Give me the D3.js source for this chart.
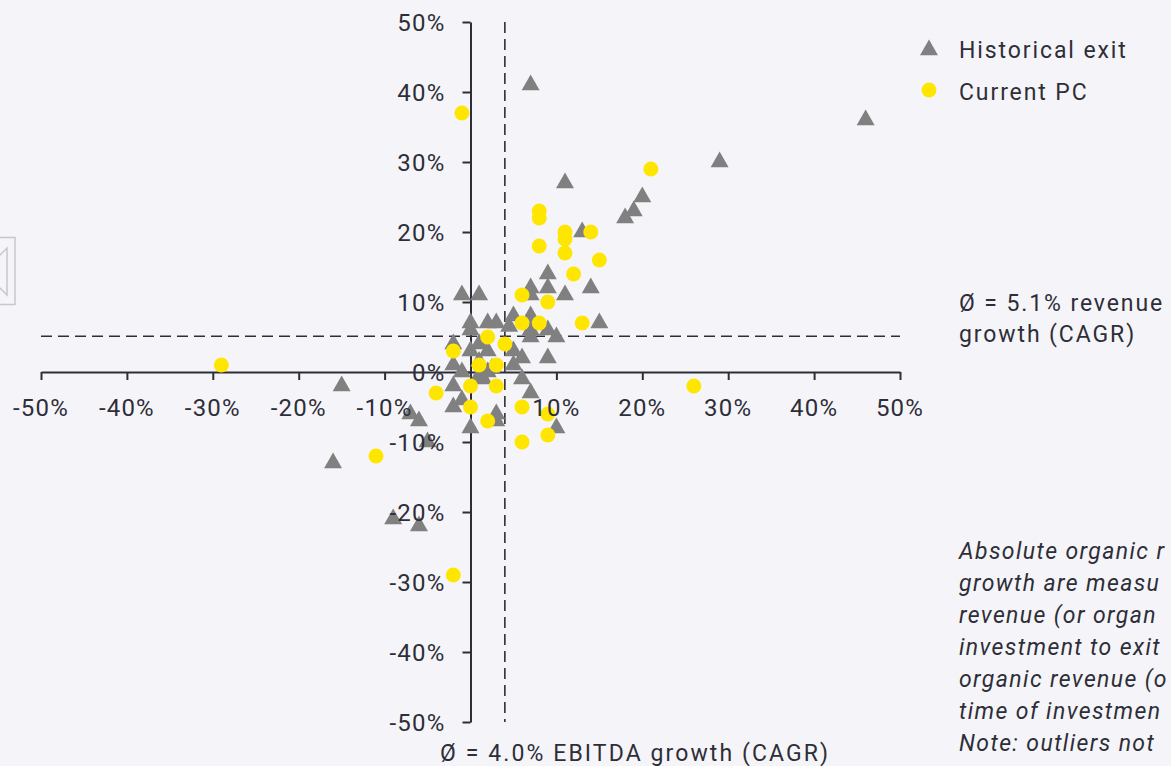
<!DOCTYPE html>
<html>
<head>
<meta charset="utf-8">
<script src="https://cdn.jsdelivr.net/npm/d3@7"></script>
<style>
  html, body { margin: 0; padding: 0; background: #f5f5f9; overflow: hidden; }
  svg { display: block; font-family: Roboto, "Open Sans", sans-serif; }
</style>
</head>
<body>
<svg id="chart" width="1171" height="766"></svg>
<script>
// EBITDA growth (x, %) vs. revenue growth (y, %) per deal
const historicalExit = [
  [7, 41], [46, 36], [29, 30], [11, 27], [20, 25], [19, 23], [18, 22], [13, 20],
  [9, 14], [7, 12], [9, 12], [14, 12], [11, 11], [7, 11], [-1, 11], [1, 11],
  [15, 7], [0, 7], [0, 6], [2, 7], [3, 7], [5, 8], [4.5, 6.5], [7, 8], [7, 6],
  [7, 5], [9, 6], [10, 5], [9, 2], [-2, 4], [-2, 1], [0, 3], [1, 4], [2, 3],
  [5, 3], [6, 2], [5, 1], [-1, 0], [1, -0.5], [2, 0], [1.5, -1], [2.5, 0.5],
  [1, 1.5], [-2, -2], [-1, -4], [-2, -5], [6, -1], [7, -3], [3, -6], [3, -7],
  [0, -8], [10, -8], [-7, -6], [-6, -7], [-5, -10], [-9, -21], [-6, -22],
  [-16, -13], [-15, -2]
];
const currentPC = [
  [-1, 37], [21, 29], [8, 23], [8, 22], [11, 20], [11, 19], [14, 20], [8, 18],
  [11, 17], [15, 16], [12, 14], [6, 11], [9, 10], [6, 7], [8, 7], [13, 7],
  [2, 5], [4, 4], [-2, 3], [1, 1], [3, 1], [-29, 1], [-4, -3], [0, -2], [3, -2],
  [0, -5], [2, -7], [6, -5], [9, -6], [9, -9], [6, -10], [26, -2], [-11, -12],
  [-2, -29]
];
const xTicks = [-50, -40, -30, -20, -10, 0, 10, 20, 30, 40, 50];
const yTicks = [-50, -40, -30, -20, -10, 0, 10, 20, 30, 40, 50];
const ebitdaMean = 4.0;   // Ø EBITDA growth (CAGR)
const revenueMean = 5.1;  // Ø revenue growth (CAGR)
const legendItems = ["Historical exit", "Current PC"];
const revenueLabel = ["Ø = 5.1% revenue", "growth (CAGR)"];
const ebitdaLabel = "Ø = 4.0% EBITDA growth (CAGR)";
const noteLines = [
  "Absolute organic r",
  "growth are measu",
  "revenue (or organ",
  "investment to exit",
  "organic revenue (o",
  "time of investmen",
  "Note: outliers not"
];

const ink = "#2e2e38";
const grey = "#808080";
const yellow = "#ffe600";

const svg = d3.select("#chart");
const x = d3.scaleLinear().domain([-50, 50]).range([41, 900]);
const y = d3.scaleLinear().domain([-50, 50]).range([722, 22]);
const pct = d => d + "%";

// side scroller widget on the left edge
const nav = svg.append("g").attr("fill", "none").attr("stroke", "#c8c8cc").attr("stroke-width", 1.5);
nav.append("rect").attr("x", -2).attr("y", 237.5).attr("width", 17).attr("height", 67);
nav.append("path").attr("d", "M-1,256 L7,248 L7,295 L-1,287");

// mean lines
const dash = "11,6";
svg.append("line")
  .attr("x1", x(-50)).attr("x2", x(50))
  .attr("y1", y(revenueMean)).attr("y2", y(revenueMean))
  .attr("stroke", ink).attr("stroke-width", 1.6).attr("stroke-dasharray", dash);
svg.append("line")
  .attr("x1", x(ebitdaMean)).attr("x2", x(ebitdaMean))
  .attr("y1", y(50)).attr("y2", y(-50))
  .attr("stroke", ink).attr("stroke-width", 1.6).attr("stroke-dasharray", dash);

// axes crossing at the origin
const xAxis = svg.append("g")
  .attr("transform", `translate(0,${y(0)})`)
  .call(d3.axisBottom(x).tickValues(xTicks).tickSizeInner(8).tickSizeOuter(0)
    .tickFormat(d => d === 0 ? "" : pct(d)));
const yAxis = svg.append("g")
  .attr("transform", `translate(${x(0)},0)`)
  .call(d3.axisLeft(y).tickValues(yTicks).tickSizeInner(8).tickSizeOuter(0)
    .tickPadding(17).tickFormat(pct));
[xAxis, yAxis].forEach(g => {
  g.select(".domain").attr("stroke", ink).attr("stroke-width", 2);
  g.selectAll(".tick line").attr("stroke", ink).attr("stroke-width", 2);
  g.selectAll("text").remove();
});

// markers
const tri = d3.symbol(d3.symbolTriangle, 140);
svg.append("g").selectAll("path").data(historicalExit).join("path")
  .attr("d", tri)
  .attr("transform", d => `translate(${x(d[0])},${y(d[1])})`)
  .attr("fill", grey);
svg.append("g").selectAll("circle").data(currentPC).join("circle")
  .attr("cx", d => x(d[0])).attr("cy", d => y(d[1])).attr("r", 7.5)
  .attr("fill", yellow);

// tick labels
const tickFont = { size: 24, spacing: 1.2 };
svg.append("g").selectAll("text").data(xTicks.filter(d => d !== 0)).join("text")
  .attr("x", d => x(d)).attr("y", y(0) + 44)
  .attr("text-anchor", "middle").attr("fill", ink)
  .attr("font-size", tickFont.size).attr("letter-spacing", tickFont.spacing)
  .text(pct);
svg.append("g").selectAll("text").data(yTicks).join("text")
  .attr("x", x(0) - 25).attr("y", d => y(d) + 9)
  .attr("text-anchor", "end").attr("fill", ink)
  .attr("font-size", tickFont.size).attr("letter-spacing", tickFont.spacing)
  .text(pct);

// legend
const legend = svg.append("g").attr("transform", "translate(929,0)");
legend.append("path").attr("d", tri).attr("transform", "translate(0,50)").attr("fill", grey);
legend.append("circle").attr("cx", 0).attr("cy", 90).attr("r", 7.5).attr("fill", yellow);
legend.selectAll("text").data(legendItems).join("text")
  .attr("x", 30).attr("y", (d, i) => 58 + i * 42)
  .attr("fill", ink).attr("font-size", 23).attr("letter-spacing", 1.9)
  .text(d => d);

// mean annotations
svg.append("g").selectAll("text").data(revenueLabel).join("text")
  .attr("x", 959).attr("y", (d, i) => 311 + i * 31)
  .attr("fill", ink).attr("font-size", 23).attr("letter-spacing", 1.9)
  .text(d => d);
svg.append("text")
  .attr("x", 440).attr("y", 761)
  .attr("fill", ink).attr("font-size", 23).attr("letter-spacing", 2.1)
  .text(ebitdaLabel);

// footnote
svg.append("g").selectAll("text").data(noteLines).join("text")
  .attr("x", 959).attr("y", (d, i) => 559 + i * 32)
  .attr("fill", ink).attr("font-size", 23).attr("letter-spacing", 1.4)
  .attr("font-style", "italic")
  .text(d => d);
</script>
</body>
</html>
